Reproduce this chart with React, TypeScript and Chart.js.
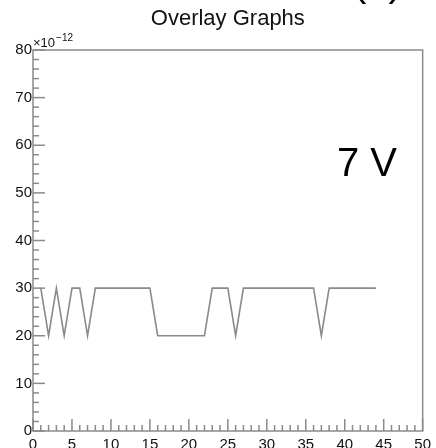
import React, { useEffect, useRef } from "react";
import { Chart, registerables } from "chart.js";

Chart.register(...registerables);

// Data (y in units of 1e-12)
const xValues = [1, 2, 3, 4, 5, 6, 7, 8, 15, 16, 22, 23, 25, 26, 27, 36, 37, 38, 44];
const yValues = [30, 20, 30, 20, 30, 30, 20, 30, 30, 20, 20, 30, 30, 20, 30, 30, 20, 30, 30];
const xRange = [0, 50];
const yRange = [0, 80];
const xMajorStep = 5;
const yMajorStep = 10;
const xMinorStep = 1;
const yMinorStep = 2;
const titleText = "Overlay Graphs";
const annotationText = "7 V";
const exponentBase = "\u00d710";
const exponentPower = "\u221212";

const FONT = "'Liberation Sans', Arial, Helvetica, sans-serif";
const LINE_GRAY = "#8a8a8a";

const decorPlugin = {
  id: "decor",
  afterDatasetsDraw(chart: any) {
    const { ctx, chartArea } = chart;
    const xs = chart.scales.x;
    const ys = chart.scales.y;
    const { left, right, top, bottom } = chartArea;
    ctx.save();
    // frame
    ctx.strokeStyle = LINE_GRAY;
    ctx.lineWidth = 1.5;
    ctx.strokeRect(left, top, right - left, bottom - top);
    // y ticks (inside)
    for (let v = yRange[0]; v <= yRange[1] + 1e-9; v += yMinorStep) {
      const py = ys.getPixelForValue(v);
      const major = Math.abs(v % yMajorStep) < 1e-9;
      ctx.beginPath();
      ctx.moveTo(left, py);
      ctx.lineTo(left + (major ? 12 : 6), py);
      ctx.stroke();
    }
    // x ticks (inside)
    for (let v = xRange[0]; v <= xRange[1] + 1e-9; v += xMinorStep) {
      const px = xs.getPixelForValue(v);
      const major = Math.abs(v % xMajorStep) < 1e-9;
      ctx.beginPath();
      ctx.moveTo(px, bottom);
      ctx.lineTo(px, bottom - (major ? 12 : 6));
      ctx.stroke();
    }
    // title
    ctx.fillStyle = "#111";
    ctx.textAlign = "center";
    ctx.textBaseline = "alphabetic";
    ctx.font = `22px ${FONT}`;
    ctx.fillText(titleText, (left + right) / 2, 25);
    // exponent
    ctx.textAlign = "left";
    ctx.font = `13px ${FONT}`;
    ctx.fillText(exponentBase, left, 47);
    const w = ctx.measureText(exponentBase).width;
    ctx.font = `10px ${FONT}`;
    ctx.fillText(exponentPower, left + w + 1, 41);
    // annotation
    ctx.fillStyle = "#000";
    ctx.font = `40px ${FONT}`;
    ctx.fillText(annotationText, 337, 176);
    // cropped fragment at top
    ctx.fillText("(  )", 353, -4);
    ctx.restore();
  },
};

export default function App() {
  const ref = useRef<HTMLCanvasElement | null>(null);
  useEffect(() => {
    document.body.style.margin = "0";
    const canvas = ref.current;
    if (!canvas) return;
    const chart = new Chart(canvas, {
      type: "line",
      data: {
        datasets: [
          {
            data: xValues.map((x, i) => ({ x, y: yValues[i] })),
            borderColor: LINE_GRAY,
            borderWidth: 1.6,
            pointRadius: 0,
            tension: 0,
            fill: false,
          },
        ],
      },
      options: {
        animation: false,
        responsive: false,
        maintainAspectRatio: false,
        layout: { padding: { top: 50, right: 6, left: 0, bottom: 0 } },
        plugins: { legend: { display: false }, tooltip: { enabled: false }, title: { display: false } },
        scales: {
          x: {
            type: "linear",
            min: xRange[0],
            max: xRange[1],
            grid: { display: false, drawTicks: false },
            border: { display: false },
            ticks: {
              stepSize: xMajorStep,
              maxRotation: 0,
              autoSkip: false,
              padding: 5,
              color: "#111",
              font: { family: FONT, size: 15 },
            },
            afterFit: (s: any) => {
              s.height = 17;
            },
          },
          y: {
            type: "linear",
            min: yRange[0],
            max: yRange[1],
            grid: { display: false, drawTicks: false },
            border: { display: false },
            ticks: {
              stepSize: yMajorStep,
              padding: 1,
              color: "#111",
              font: { family: FONT, size: 15 },
            },
            afterFit: (s: any) => {
              s.width = 33;
            },
          },
        },
      },
      plugins: [decorPlugin],
    });
    return () => chart.destroy();
  }, []);
  return <canvas ref={ref} width={436} height={448} style={{ display: "block" }} />;
}
